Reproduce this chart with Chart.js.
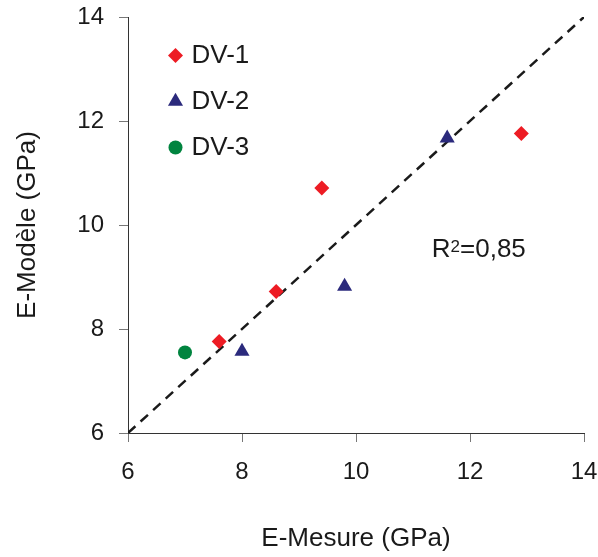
<!DOCTYPE html>
<html>
<head>
<meta charset="utf-8">
<script src="https://cdn.jsdelivr.net/npm/chart.js@4.4.1/dist/chart.umd.min.js"></script>
<style>
  html, body { margin: 0; padding: 0; background: #fff; }
</style>
</head>
<body>
<canvas id="scatterChart" width="598" height="557"></canvas>
<script>
// values
const seriesNames = ['DV-1', 'DV-2', 'DV-3'];
const dv1X = [7.6, 8.6, 9.4, 12.9];
const dv1Y = [7.76, 8.72, 10.71, 11.76];
const dv2X = [8.0, 9.8, 11.6];
const dv2Y = [7.57, 8.82, 11.67];
const dv3X = [7.0];
const dv3Y = [7.55];
const diagX = [6, 14];
const diagY = [6, 14];
const axisTicks = [6, 8, 10, 12, 14];
const r2Parts = ['R', '2', '=0,85'];
const r2Pos = { x: 11.33, y: 9.38 };

const FONT = '"Liberation Sans", Arial, sans-serif';
const TEXT = '#1a1a1a';

function toPoints(xs, ys) {
    return xs.map((x, i) => ({ x: x, y: ys[i] }));
}

// fixed axis sizes, no extra padding for the end labels
function fixSize(s, w, h) {
    if (w) s.width = w;
    if (h) s.height = h;
    s.paddingTop = s.paddingBottom = s.paddingLeft = s.paddingRight = 0;
}

// legend drawn inside the plot, top left
const insideLegend = {
    id: 'insideLegend',
    afterDatasetsDraw(chart) {
        const { ctx, chartArea } = chart;
        ctx.save();
        seriesNames.forEach((name, i) => {
            const ds = chart.data.datasets[i];
            const mx = chartArea.left + 47.5;
            const my = chartArea.top + 38.5 + i * 46;
            ctx.fillStyle = ds.backgroundColor;
            Chart.helpers.drawPoint(ctx, { pointStyle: ds.pointStyle, radius: ds.pointRadius, borderWidth: 0 }, mx, my);
            ctx.fillStyle = TEXT;
            ctx.font = '26px ' + FONT;
            ctx.textBaseline = 'middle';
            ctx.textAlign = 'left';
            ctx.fillText(name, mx + 16, my);
        });
        ctx.restore();
    }
};

// R² note
const r2Label = {
    id: 'r2Label',
    afterDatasetsDraw(chart) {
        const { ctx, scales } = chart;
        let x = scales.x.getPixelForValue(r2Pos.x);
        const y = scales.y.getPixelForValue(r2Pos.y);
        ctx.save();
        ctx.fillStyle = TEXT;
        ctx.textBaseline = 'alphabetic';
        ctx.font = '26px ' + FONT;
        ctx.fillText(r2Parts[0], x, y);
        x += ctx.measureText(r2Parts[0]).width;
        ctx.font = '17px ' + FONT;
        ctx.fillText(r2Parts[1], x, y - 5.5);
        x += ctx.measureText(r2Parts[1]).width;
        ctx.font = '26px ' + FONT;
        ctx.fillText(r2Parts[2], x, y);
        ctx.restore();
    }
};

const ctx = document.getElementById('scatterChart').getContext('2d');

new Chart(ctx, {
    type: 'scatter',
    data: {
        datasets: [
            {
                label: seriesNames[0],
                data: toPoints(dv1X, dv1Y),
                pointStyle: 'rectRot',
                pointRadius: 7.5,
                backgroundColor: '#ed1c24',
                borderWidth: 0,
                order: 0
            },
            {
                label: seriesNames[1],
                data: toPoints(dv2X, dv2Y),
                pointStyle: 'triangle',
                pointRadius: 8.7,
                backgroundColor: '#2b2a7c',
                borderWidth: 0,
                order: 0
            },
            {
                label: seriesNames[2],
                data: toPoints(dv3X, dv3Y),
                pointStyle: 'circle',
                pointRadius: 7,
                backgroundColor: '#00843f',
                borderWidth: 0,
                order: 0
            },
            {
                type: 'line',
                label: '1:1',
                data: toPoints(diagX, diagY),
                borderColor: '#1a1a1a',
                borderWidth: 2.5,
                borderDash: [10, 7],
                pointRadius: 0,
                fill: false,
                order: 1
            }
        ]
    },
    options: {
        responsive: false,
        animation: false,
        layout: {
            padding: { left: 0, right: 14, top: 17, bottom: 0 }
        },
        plugins: {
            legend: { display: false },
            tooltip: { enabled: false }
        },
        scales: {
            x: {
                type: 'linear',
                min: 6,
                max: 14,
                afterFit: s => fixSize(s, 0, 124),
                afterBuildTicks: s => { s.ticks = axisTicks.map(v => ({ value: v })); },
                grid: { drawOnChartArea: false, tickLength: 9, tickColor: '#777', tickWidth: 1 },
                border: { display: true, color: '#333', width: 1 },
                ticks: { padding: 16, color: TEXT, font: { size: 24, family: FONT } },
                title: {
                    display: true,
                    text: 'E-Mesure (GPa)',
                    color: TEXT,
                    font: { size: 26, family: FONT },
                    padding: { top: 0, bottom: 3 }
                }
            },
            y: {
                type: 'linear',
                min: 6,
                max: 14,
                afterFit: s => fixSize(s, 128, 0),
                afterBuildTicks: s => { s.ticks = axisTicks.map(v => ({ value: v })); },
                grid: { drawOnChartArea: false, tickLength: 9, tickColor: '#777', tickWidth: 1 },
                border: { display: true, color: '#333', width: 1 },
                ticks: { padding: 15, color: TEXT, font: { size: 24, family: FONT } },
                title: {
                    display: true,
                    text: 'E-Modèle (GPa)',
                    color: TEXT,
                    font: { size: 26, family: FONT },
                    padding: { top: 12, bottom: 0 }
                }
            }
        }
    },
    plugins: [insideLegend, r2Label]
});
</script>
</body>
</html>
